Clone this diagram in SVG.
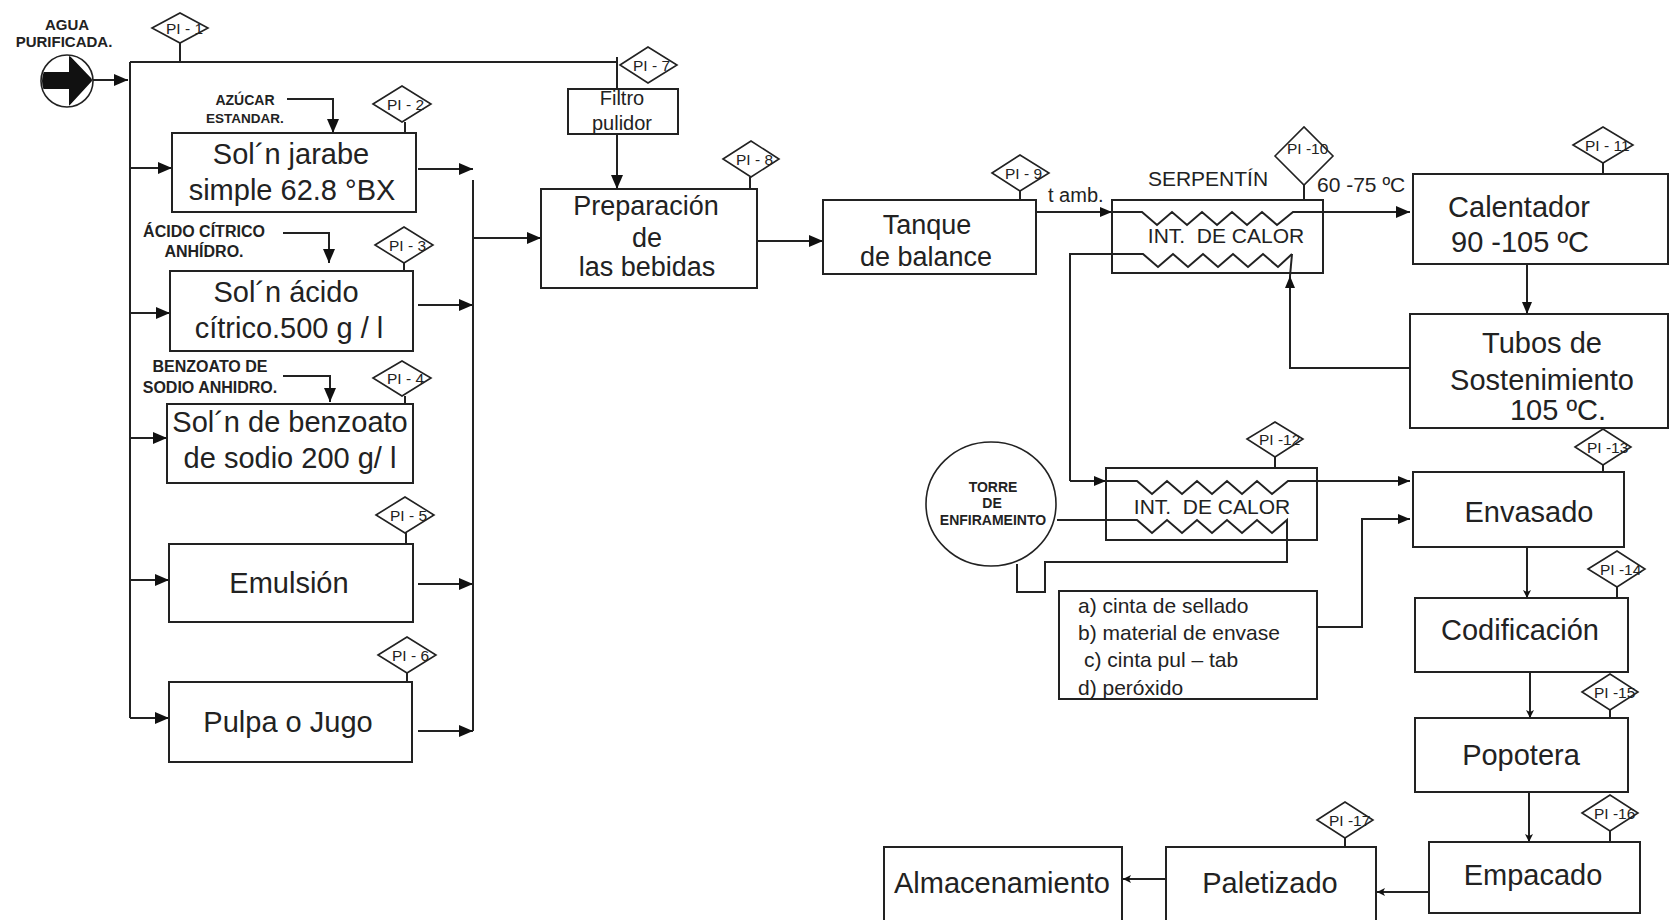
<svg xmlns="http://www.w3.org/2000/svg" width="1669" height="920" viewBox="0 0 1669 920">
<style>
.b{fill:#fff;stroke:#222;stroke-width:2}
.l{fill:none;stroke:#222;stroke-width:2}
.t{font-family:"Liberation Sans",Arial,sans-serif;fill:#222}
.big{font-size:29px;text-anchor:middle}
.med{font-size:27px;text-anchor:middle}
.pi{font-size:15.5px}
.lab{font-weight:bold;text-anchor:middle}
.d{fill:#fff;stroke:#222;stroke-width:1.6}
</style>
<defs>
<marker id="ab" viewBox="0 0 14 12" refX="14" refY="6" markerWidth="14" markerHeight="12" markerUnits="userSpaceOnUse" orient="auto"><path d="M0,0 L14,6 L0,12 Z" fill="#111"/></marker>
<marker id="am" viewBox="0 0 12 10" refX="12" refY="5" markerWidth="12" markerHeight="10" markerUnits="userSpaceOnUse" orient="auto"><path d="M0,0 L12,5 L0,10 Z" fill="#111"/></marker>
<marker id="as" viewBox="0 0 8 8" refX="8" refY="4" markerWidth="8" markerHeight="8" markerUnits="userSpaceOnUse" orient="auto"><path d="M0,0 L8,4 L0,8 L2,4 Z" fill="#111"/></marker>
<clipPath id="cc"><circle cx="67" cy="81" r="25"/></clipPath>
</defs>

<g id="connectors">
<path class="l" d="M93,80 L128,80" marker-end="url(#ab)"/>
<path class="l" d="M130,62 L130,718 M130,62 L617,62 M180,43 L180,62"/>
<path class="l" d="M130,168 L172,168" marker-end="url(#ab)"/>
<path class="l" d="M130,313 L170,313" marker-end="url(#ab)"/>
<path class="l" d="M130,438 L167,438" marker-end="url(#ab)"/>
<path class="l" d="M130,580 L169,580" marker-end="url(#ab)"/>
<path class="l" d="M130,718 L169,718" marker-end="url(#ab)"/>
<path class="l" d="M287,99 L333,99 L333,133" marker-end="url(#ab)"/>
<path class="l" d="M283,233 L329,233 L329,263" marker-end="url(#ab)"/>
<path class="l" d="M283,376 L330,376 L330,402" marker-end="url(#ab)"/>
<path class="l" d="M418,169 L473,169" marker-end="url(#ab)"/>
<path class="l" d="M418,305 L473,305" marker-end="url(#ab)"/>
<path class="l" d="M418,584 L473,584" marker-end="url(#ab)"/>
<path class="l" d="M418,731 L473,731" marker-end="url(#ab)"/>
<path class="l" d="M473,180 L473,731"/>
<path class="l" d="M473,238 L541,238" marker-end="url(#ab)"/>
<path class="l" d="M617,57 L617,89"/>
<path class="l" d="M617,134 L617,189" marker-end="url(#ab)"/>
<path class="l" d="M757,241 L823,241" marker-end="url(#ab)"/>
<path class="l" d="M1036,212 L1112,212" marker-end="url(#am)"/>
<path class="l" d="M1112,212 L1142,212 L1157,225 L1172,212 L1187,225 L1202,212 L1217,225 L1232,212 L1247,225 L1262,212 L1277,225 L1293,212 L1410,212" marker-end="url(#ab)"/>
<path class="l" d="M1070,481 L1070,254 L1143,254 L1158,267 L1173,254 L1188,267 L1203,254 L1218,267 L1233,254 L1248,267 L1263,254 L1278,267 L1292,254"/>
<path class="l" d="M1070,481 L1106,481" marker-end="url(#am)"/>
<path class="l" d="M1527,264 L1527,314" marker-end="url(#am)"/>
<path class="l" d="M1410,368 L1290,368 L1290,276" marker-end="url(#am)"/>
<path class="l" d="M1290,276 L1292,254"/>
<path class="l" d="M1106,481 L1137,481 L1152,494 L1167,481 L1182,494 L1197,481 L1212,494 L1227,481 L1242,494 L1257,481 L1272,494 L1288,481 L1410,481" marker-end="url(#am)"/>
<path class="l" d="M1057,520 L1137,520 L1152,533 L1167,520 L1182,533 L1197,520 L1212,533 L1227,520 L1242,533 L1257,520 L1272,533 L1287,520 L1287,562 L1045,562 L1045,592 L1017,592 L1017,564"/>
<path class="l" d="M1317,627 L1362,627 L1362,519 L1410,519" marker-end="url(#am)"/>
<path class="l" d="M1527,547 L1527,598" marker-end="url(#as)"/>
<path class="l" d="M1530,672 L1530,718" marker-end="url(#as)"/>
<path class="l" d="M1529,792 L1529,842" marker-end="url(#as)"/>
<path class="l" d="M1429,892 L1377,892" marker-end="url(#as)"/>
<path class="l" d="M1166,879 L1123,879" marker-end="url(#as)"/>
<path class="l" d="M405,122 L405,133 M404,263 L404,271 M405,396 L405,404 M406,533 L406,544 M407,673 L407,682 M750,177 L750,189 M1020,191 L1020,200 M1304,185 L1304,200 M1603,163 L1603,174 M1275,457 L1275,468 M1603,465 L1603,472 M1617,587 L1617,598 M1610,710 L1610,718 M1610,831 L1610,842 M1345,838 L1345,847"/>
</g>

<g id="agua">
<circle cx="67" cy="81" r="26" fill="#fff" stroke="#222" stroke-width="1.6"/>
<path d="M38,72 L69,72 L69,55 L93,80 L69,106 L69,89 L38,89 Z" fill="#111" clip-path="url(#cc)"/>
<text class="t lab" x="67" y="30" font-size="15">AGUA</text>
<text class="t lab" x="64" y="47" font-size="15">PURIFICADA.</text>
</g>

<g id="pi1"><path class="d" d="M152,28 L180,13 L208,28 L180,43 Z"/><text class="t pi" x="166" y="34">PI - 1</text></g>
<g id="pi2"><path class="d" d="M373,104 L402,86 L431,104 L402,122 Z"/><text class="t pi" x="387" y="110">PI - 2</text></g>
<g id="pi3"><path class="d" d="M375,245 L404,227 L433,245 L404,263 Z"/><text class="t pi" x="389" y="251">PI - 3</text></g>
<g id="pi4"><path class="d" d="M373,378 L402,361 L431,378 L402,396 Z"/><text class="t pi" x="387" y="384">PI - 4</text></g>
<g id="pi5"><path class="d" d="M376,515 L405,497 L434,515 L405,533 Z"/><text class="t pi" x="390" y="521">PI - 5</text></g>
<g id="pi6"><path class="d" d="M378,655 L407,637 L436,655 L407,673 Z"/><text class="t pi" x="392" y="661">PI - 6</text></g>
<g id="pi7"><path class="d" d="M620,65 L648,47 L677,65 L648,83 Z"/><text class="t pi" x="633" y="71">PI - 7</text></g>
<g id="pi8"><path class="d" d="M723,159 L751,141 L779,159 L751,177 Z"/><text class="t pi" x="736" y="165">PI - 8</text></g>
<g id="pi9"><path class="d" d="M992,173 L1020,155 L1049,173 L1020,191 Z"/><text class="t pi" x="1005" y="179">PI - 9</text></g>
<g id="pi10"><path class="d" d="M1275,156 L1304,127 L1333,156 L1304,185 Z"/><text class="t pi" x="1287" y="154">PI -10</text></g>
<g id="pi11"><path class="d" d="M1573,145 L1603,127 L1633,145 L1603,163 Z"/><text class="t pi" x="1585" y="151">PI - 11</text></g>
<g id="pi12"><path class="d" d="M1247,439 L1275,422 L1303,439 L1275,457 Z"/><text class="t pi" x="1259" y="445">PI -12</text></g>
<g id="pi13"><path class="d" d="M1575,447 L1603,429 L1631,447 L1603,465 Z"/><text class="t pi" x="1587" y="453">PI -13</text></g>
<g id="pi14"><path class="d" d="M1588,569 L1617,551 L1645,569 L1617,587 Z"/><text class="t pi" x="1600" y="575">PI -14</text></g>
<g id="pi15"><path class="d" d="M1582,692 L1610,674 L1638,692 L1610,710 Z"/><text class="t pi" x="1594" y="698">PI -15</text></g>
<g id="pi16"><path class="d" d="M1582,813 L1610,795 L1638,813 L1610,831 Z"/><text class="t pi" x="1594" y="819">PI -16</text></g>
<g id="pi17"><path class="d" d="M1317,820 L1345,802 L1373,820 L1345,838 Z"/><text class="t pi" x="1329" y="826">PI -17</text></g>

<g id="labels">
<text class="t lab" x="245" y="105" font-size="14">AZÚCAR</text>
<text class="t lab" x="245" y="123" font-size="13.5">ESTANDAR.</text>
<text class="t lab" x="204" y="237" font-size="16">ÁCIDO CÍTRICO</text>
<text class="t lab" x="204" y="257" font-size="16">ANHÍDRO.</text>
<text class="t lab" x="210" y="372" font-size="16">BENZOATO DE</text>
<text class="t lab" x="210" y="393" font-size="16">SODIO ANHIDRO.</text>
<text class="t" x="1048" y="202" font-size="20">t amb.</text>
<text class="t" x="1208" y="186" font-size="21" text-anchor="middle">SERPENTÍN</text>
<text class="t" x="1317" y="192" font-size="21">60 -75 ºC</text>
</g>

<g id="jarabe"><rect class="b" x="172" y="133" width="244" height="79"/>
<text class="t big" x="291" y="164">Sol´n jarabe</text><text class="t big" x="292" y="200">simple 62.8 °BX</text></g>
<g id="citrico"><rect class="b" x="170" y="271" width="243" height="80"/>
<text class="t big" x="286" y="302">Sol´n ácido</text><text class="t big" x="289" y="338">cítrico.500 g / l</text></g>
<g id="benzoato"><rect class="b" x="167" y="404" width="246" height="79"/>
<text class="t big" x="290" y="432">Sol´n de benzoato</text><text class="t big" x="290" y="468">de sodio 200 g/ l</text></g>
<g id="emulsion"><rect class="b" x="169" y="544" width="244" height="78"/>
<text class="t big" x="289" y="593">Emulsión</text></g>
<g id="pulpa"><rect class="b" x="169" y="682" width="243" height="80"/>
<text class="t big" x="288" y="732">Pulpa o Jugo</text></g>

<g id="filtro"><rect class="b" x="568" y="89" width="110" height="45"/>
<text class="t" x="622" y="105" font-size="20" text-anchor="middle">Filtro</text>
<text class="t" x="622" y="130" font-size="20" text-anchor="middle">pulidor</text></g>
<g id="preparacion"><rect class="b" x="541" y="189" width="216" height="99"/>
<text class="t med" x="646" y="215">Preparación</text><text class="t med" x="647" y="247">de</text><text class="t med" x="647" y="276">las bebidas</text></g>
<g id="tanque"><rect class="b" x="823" y="200" width="213" height="74"/>
<text class="t med" x="927" y="234">Tanque</text><text class="t med" x="926" y="266">de balance</text></g>

<g id="int1"><rect x="1112" y="200" width="211" height="73" fill="none" stroke="#222" stroke-width="2"/>
<text class="t" x="1226" y="243" font-size="21" text-anchor="middle">INT.&#160; DE CALOR</text></g>
<g id="calentador"><rect class="b" x="1413" y="174" width="255" height="90"/>
<text class="t big" x="1519" y="217">Calentador</text><text class="t big" x="1520" y="252">90 -105 ºC</text></g>
<g id="tubos"><rect class="b" x="1410" y="314" width="258" height="114"/>
<text class="t big" x="1542" y="353">Tubos de</text><text class="t big" x="1542" y="390">Sostenimiento</text><text class="t big" x="1558" y="420">105 ºC.</text></g>

<g id="torre"><ellipse cx="991" cy="504" rx="65" ry="62" fill="#fff" stroke="#222" stroke-width="1.6"/>
<text class="t lab" x="993" y="492" font-size="14">TORRE</text>
<text class="t lab" x="992" y="508" font-size="14">DE</text>
<text class="t lab" x="993" y="525" font-size="14">ENFIRAMEINTO</text></g>
<g id="int2"><rect x="1106" y="468" width="211" height="72" fill="none" stroke="#222" stroke-width="2"/>
<text class="t" x="1212" y="514" font-size="21" text-anchor="middle">INT.&#160; DE CALOR</text></g>
<g id="materiales"><rect class="b" x="1059" y="591" width="258" height="108"/>
<text class="t" x="1078" y="613" font-size="21">a) cinta de sellado</text>
<text class="t" x="1078" y="640" font-size="21">b) material de envase</text>
<text class="t" x="1084" y="667" font-size="21">c) cinta pul – tab</text>
<text class="t" x="1078" y="695" font-size="21">d) peróxido</text></g>

<g id="envasado"><rect class="b" x="1413" y="472" width="211" height="75"/>
<text class="t big" x="1529" y="522">Envasado</text></g>
<g id="codificacion"><rect class="b" x="1415" y="598" width="213" height="74"/>
<text class="t big" x="1520" y="640">Codificación</text></g>
<g id="popotera"><rect class="b" x="1415" y="718" width="213" height="74"/>
<text class="t big" x="1521" y="765">Popotera</text></g>
<g id="empacado"><rect class="b" x="1429" y="842" width="211" height="71"/>
<text class="t big" x="1533" y="885">Empacado</text></g>
<g id="paletizado"><rect class="b" x="1166" y="847" width="210" height="90"/>
<text class="t big" x="1270" y="893">Paletizado</text></g>
<g id="almacenamiento"><rect class="b" x="884" y="847" width="238" height="90"/>
<text class="t big" x="1002" y="893">Almacenamiento</text></g>
</svg>
